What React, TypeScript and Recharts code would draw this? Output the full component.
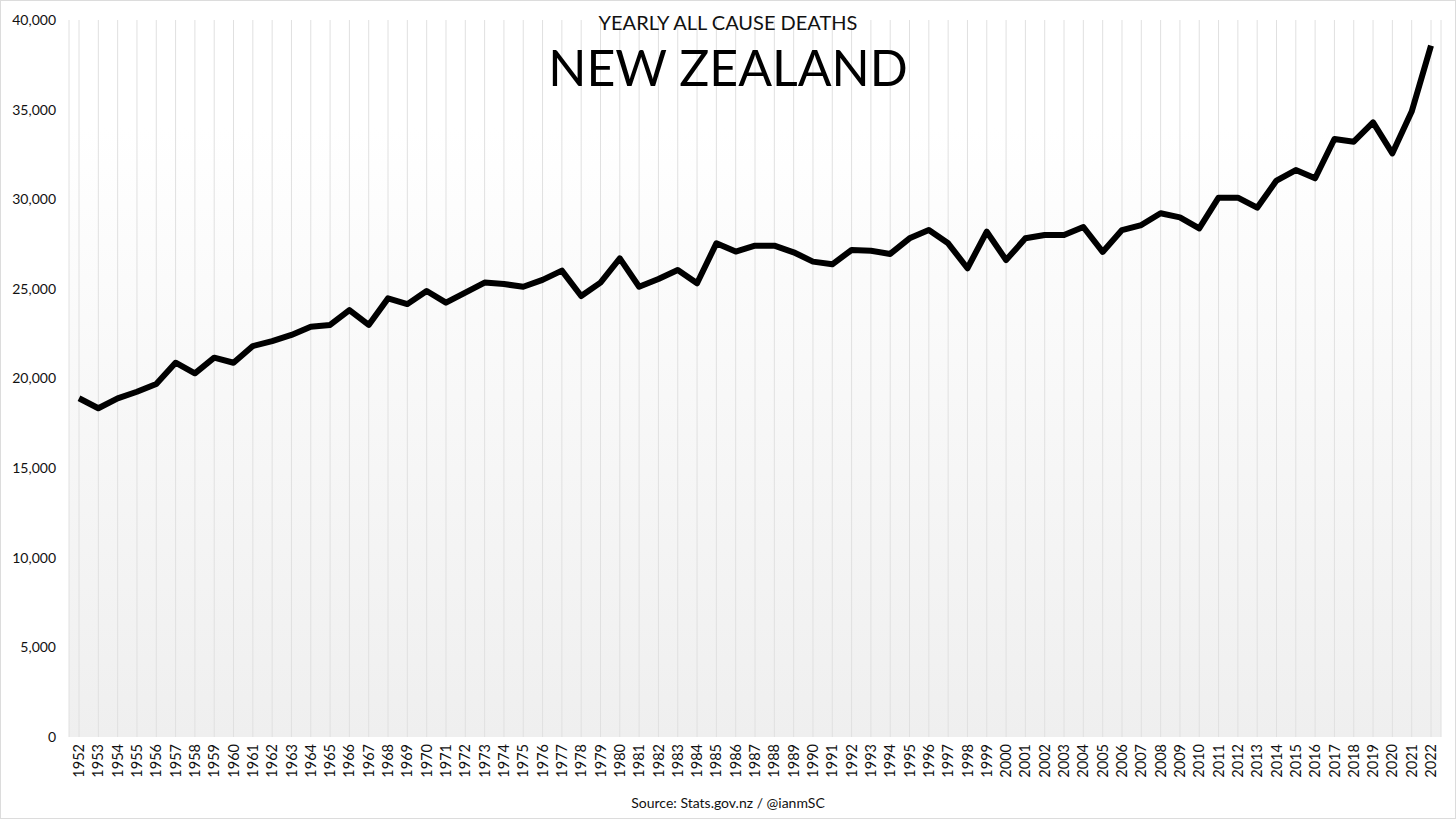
import React from 'react';
import { LineChart, Line, XAxis, YAxis, CartesianGrid } from 'recharts';

const YEARS = [
  1952, 1953, 1954, 1955, 1956, 1957, 1958, 1959, 1960, 1961, 1962, 1963, 1964, 1965, 1966, 1967, 1968,
  1969, 1970, 1971, 1972, 1973, 1974, 1975, 1976, 1977, 1978, 1979, 1980, 1981, 1982, 1983, 1984, 1985,
  1986, 1987, 1988, 1989, 1990, 1991, 1992, 1993, 1994, 1995, 1996, 1997, 1998, 1999, 2000, 2001, 2002,
  2003, 2004, 2005, 2006, 2007, 2008, 2009, 2010, 2011, 2012, 2013, 2014, 2015, 2016, 2017, 2018, 2019,
  2020, 2021, 2022,
];

const DEATHS = [
  18900, 18340, 18890, 19260, 19690, 20880, 20290, 21160, 20880, 21810, 22090, 22430, 22890, 22990, 23820, 22990, 24470,
  24150, 24880, 24230, 24790, 25350, 25270, 25120, 25500, 26020, 24600, 25350, 26700, 25120, 25550, 26050, 25310, 27540,
  27080, 27410, 27410, 27040, 26520, 26370, 27170, 27130, 26950, 27820, 28280, 27540, 26150, 28190, 26610, 27820, 28010,
  28010, 28450, 27060, 28280, 28560, 29220, 28990, 28380, 30090, 30090, 29530, 31040, 31630, 31170, 33360, 33210, 34290,
  32560, 34890, 38570,
];

const Y_TICKS = [0, 5000, 10000, 15000, 20000, 25000, 30000, 35000, 40000];

const chartData = YEARS.map((year, i) => ({ year: String(year), deaths: DEATHS[i] }));

const FONT = 'Lato, "Noto Sans", sans-serif';

// rotated year labels, reading bottom to top
const YearTick = (props: any) => {
  const { x, y, payload } = props;
  return (
    <g transform={`translate(${x},${y + 5})`}>
      <text transform="rotate(-90)" textAnchor="end" dy="0.35em" fontSize={14.5} fill="#111" fontFamily={FONT}>
        {payload.value}
      </text>
    </g>
  );
};

const App: React.FC = () => {
  return (
    <div
      style={{
        position: 'fixed',
        left: 0,
        top: 0,
        width: 1456,
        height: 819,
        background: '#fff',
        boxSizing: 'border-box',
        border: '1px solid #dcdcdc',
        fontFamily: FONT,
      }}
    >
      <div style={{ position: 'absolute', left: -1, top: -1 }}>
        <LineChart width={1456} height={819} data={chartData} margin={{ top: 20, right: 15, bottom: 32, left: 0 }}>
          <defs>
            <linearGradient id="bgFade" x1="0" y1="0" x2="0" y2="1">
              <stop offset="0%" stopColor="#ffffff" />
              <stop offset="15%" stopColor="#ffffff" />
              <stop offset="100%" stopColor="#efefef" />
            </linearGradient>
          </defs>
          <CartesianGrid horizontal={false} stroke="#e0e0e0" fill="url(#bgFade)" />
          <XAxis
            dataKey="year"
            interval={0}
            height={50}
            axisLine={false}
            tickLine={false}
            tickSize={0}
            padding={{ left: 10, right: 10 }}
            tick={<YearTick />}
          />
          <YAxis
            domain={[0, 40000]}
            ticks={Y_TICKS}
            width={69}
            axisLine={false}
            tickLine={false}
            tickSize={0}
            tickMargin={13}
            tick={{ fontSize: 14, fill: '#111', fontFamily: FONT }}
            tickFormatter={(v: number) => v.toLocaleString('en-US')}
          />
          <Line
            type="linear"
            dataKey="deaths"
            stroke="#000"
            strokeWidth={6}
            strokeLinejoin="round"
            dot={false}
            isAnimationActive={false}
          />
        </LineChart>
      </div>
      <div style={{ position: 'absolute', top: 9, left: 0, width: 1454, textAlign: 'center', fontSize: 20, color: '#111' }}>
        YEARLY ALL CAUSE DEATHS
      </div>
      <div style={{ position: 'absolute', top: 36, left: 0, width: 1454, textAlign: 'center', fontSize: 50, color: '#000' }}>
        NEW ZEALAND
      </div>
      <div style={{ position: 'absolute', top: 793, left: 0, width: 1454, textAlign: 'center', fontSize: 14, color: '#111' }}>
        Source: Stats.gov.nz / @ianmSC
      </div>
    </div>
  );
};

export default App;
